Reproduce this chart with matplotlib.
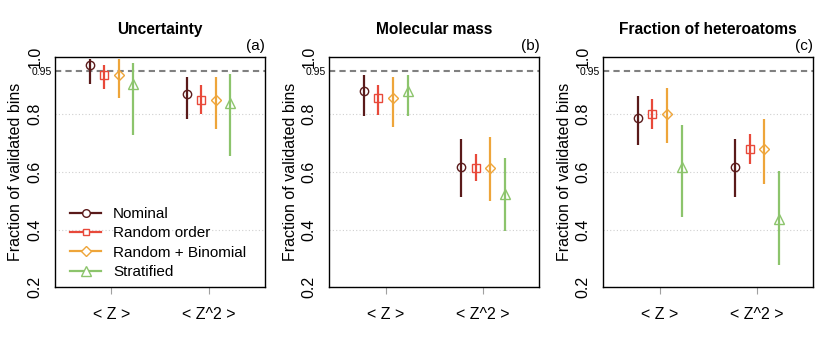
import matplotlib
matplotlib.use("Agg")
import matplotlib.pyplot as plt
from matplotlib.lines import Line2D
import numpy as np

plt.rcParams['font.family'] = ['Liberation Sans', 'DejaVu Sans']

panels = ["Uncertainty", "Molecular mass", "Fraction of heteroatoms"]
panel_tags = ["(a)", "(b)", "(c)"]
categories = ["< Z >", "< Z^2 >"]
series = ["Nominal", "Random order", "Random + Binomial", "Stratified"]
colors = ["#5a1a1a", "#e8493a", "#eea53a", "#8cc46c"]
markers = ["o", "s", "D", "^"]
msizes = [6, 5.5, 5.5, 7.5]

# center, lower, upper per panel -> series -> category
center = {
    "Uncertainty": [[0.970, 0.869], [0.936, 0.848], [0.936, 0.848], [0.906, 0.838]],
    "Molecular mass": [[0.880, 0.619], [0.855, 0.614], [0.855, 0.614], [0.880, 0.524]],
    "Fraction of heteroatoms": [[0.788, 0.619], [0.800, 0.681], [0.800, 0.681], [0.616, 0.436]],
}
lower = {
    "Uncertainty": [[0.905, 0.783], [0.888, 0.800], [0.857, 0.748], [0.729, 0.654]],
    "Molecular mass": [[0.794, 0.512], [0.798, 0.568], [0.756, 0.498], [0.793, 0.395]],
    "Fraction of heteroatoms": [[0.693, 0.515], [0.748, 0.628], [0.699, 0.559], [0.444, 0.279]],
}
upper = {
    "Uncertainty": [[0.993, 0.928], [0.972, 0.901], [0.992, 0.931], [0.977, 0.940]],
    "Molecular mass": [[0.936, 0.716], [0.901, 0.661], [0.931, 0.722], [0.936, 0.649]],
    "Fraction of heteroatoms": [[0.863, 0.716], [0.852, 0.731], [0.891, 0.783], [0.763, 0.603]],
}
target = 0.95
yticks = [0.2, 0.4, 0.6, 0.8, 1.0]
offsets = [-0.225, -0.075, 0.075, 0.225]

fig = plt.figure(figsize=(8.22, 3.43), dpi=100)
lefts = [0.0669, 0.4006, 0.7340]
width = 0.2555
bottom, top = 0.162, 0.835

for p, name in enumerate(panels):
    ax = fig.add_axes([lefts[p], bottom, width, top - bottom])
    ax.set_xlim(0.42, 2.58)
    ax.set_ylim(0.2, 1.0)
    for yv in yticks[:-1]:
        ax.axhline(yv, color="#d0d0d0", lw=0.8, ls=(0, (1, 2)), zorder=0)
    ax.axhline(target, color="#808080", lw=1.5, ls=(0, (3, 2)), zorder=1)
    x = np.arange(1, len(categories) + 1)
    for s in range(len(series)):
        xs = x + offsets[s]
        c = np.array(center[name][s])
        lo = np.array(lower[name][s])
        hi = np.array(upper[name][s])
        ax.vlines(xs, lo, hi, color=colors[s], lw=1.6, zorder=2)
        ax.plot(xs, c, ls="none", marker=markers[s], ms=msizes[s],
                mfc="none", mec=colors[s], mew=1.0, zorder=3)
    ax.set_xticks(x)
    ax.set_xticklabels(categories, fontsize=11.5)
    ax.tick_params(axis="x", length=5, color="#a0a0a0", pad=9)
    ax.set_yticks(yticks)
    ax.set_yticklabels([f"{v:.1f}" for v in yticks], fontsize=11.5,
                       rotation=90, va="center")
    ax.tick_params(axis="y", length=0, pad=9)
    for sp in ax.spines.values():
        sp.set_linewidth(1.0)
    ax.set_ylabel("Fraction of validated bins", fontsize=11.5, labelpad=3)
    ax.set_title(name, fontsize=11.2, fontweight="bold", pad=16)
    ax.text(1.0, 1.015, panel_tags[p], transform=ax.transAxes, ha="right",
            va="bottom", fontsize=11)
    ax.text(-0.015, target - 0.004, "0.95", transform=ax.get_yaxis_transform(),
            ha="right", va="center", fontsize=7.5)
    if p == 0:
        handles = [Line2D([0], [0], color=colors[s], lw=1.6, marker=markers[s],
                          ms=msizes[s] - 0.5, mfc="white", mec=colors[s], mew=1.0)
                   for s in range(len(series))]
        ax.legend(handles, series, loc="lower left", frameon=False,
                  fontsize=11, handlelength=2.0, labelspacing=0.35,
                  bbox_to_anchor=(0.0, -0.03), borderaxespad=0.6,
                  handletextpad=0.8)

fig.savefig("out.png", dpi=100)
